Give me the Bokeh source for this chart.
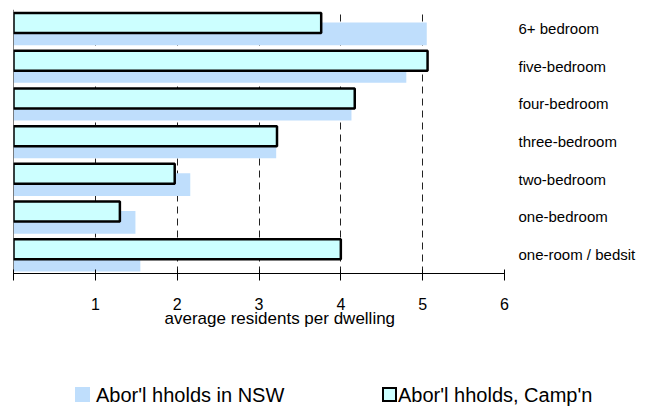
from bokeh.plotting import figure
from bokeh.layouts import column
from bokeh.models import (FactorRange, Range1d, FixedTicker, Span, Title, Div,
                          ColumnDataSource)
from bokeh.transform import dodge
from bokeh.embed import file_html
from bokeh.resources import INLINE

# ---- data ----
categories = ["one-room / bedsit", "one-bedroom", "two-bedroom", "three-bedroom",
              "four-bedroom", "five-bedroom", "6+ bedroom"]
nsw = [1.55, 1.49, 2.16, 3.21, 4.13, 4.80, 5.05]
campn = [4.00, 1.30, 1.97, 3.22, 4.17, 5.06, 3.76]
x_ticks = [0, 1, 2, 3, 4, 5, 6]
x_tick_labels = ["", "1", "2", "3", "4", "5", "6"]
series_names = ["Abor'l hholds in NSW", "Abor'l hholds, Camp'n"]
x_title = "average residents per dwelling"

FONT = "Liberation Sans"
NSW_FILL = "#BFDEFC"
CAMP_FILL = "#CCFFFF"

src = ColumnDataSource(dict(cat=categories, nsw=nsw, campn=campn))

p = figure(frame_width=491, frame_height=264, output_backend="svg", toolbar_location=None,
           x_range=Range1d(0, 6), y_range=FactorRange(factors=categories),
           y_axis_location="right", min_border_left=13, min_border_right=141,
           min_border_top=9, min_border_bottom=75)
p.outline_line_color = None
p.background_fill_color = "white"

# grid
p.ygrid.visible = False
p.xgrid.ticker = FixedTicker(ticks=x_ticks)
p.xgrid.grid_line_color = "#222222"
p.xgrid.grid_line_dash = "7 5"
p.xgrid.grid_line_width = 1

# bars
r_nsw = p.hbar(y=dodge("cat", -0.145, range=p.y_range), right="nsw", left=0, height=0.6,
               source=src, fill_color=NSW_FILL, line_color=None)
r_camp = p.hbar(y=dodge("cat", 0.142, range=p.y_range), right="campn", left=0, height=0.53,
                source=src, fill_color=CAMP_FILL, line_color="black", line_width=2.5)

# left edge line
p.add_layout(Span(location=0, dimension="height", line_color="black", line_width=1))

# x axis
xa = p.xaxis[0]
xa.ticker = FixedTicker(ticks=x_ticks)
xa.major_label_overrides = {t: l for t, l in zip(x_ticks, x_tick_labels)}
xa.minor_tick_line_color = None
xa.major_tick_in = 4
xa.major_tick_out = 7
xa.major_tick_line_color = "black"
xa.axis_line_color = "black"
xa.major_label_text_font = FONT
xa.major_label_text_font_size = "16px"
xa.major_label_text_color = "black"
xa.major_label_standoff = 17

# right categorical axis
ya = p.yaxis[0]
ya.axis_line_color = None
ya.major_tick_line_color = None
ya.major_tick_out = 0
ya.major_tick_in = 0
ya.minor_tick_line_color = None
ya.major_label_text_font = FONT
ya.major_label_text_font_size = "15px"
ya.major_label_text_color = "black"
ya.major_label_standoff = 14

# axis title (as a below title, offset to match)
p.add_layout(Title(text=x_title, align="left", offset=151, standoff=-12,
                   text_font=FONT, text_font_size="17px", text_font_style="normal",
                   text_color="black"), "below")

# ---- legend strip (HTML) ----
sq = "position:absolute;top:39px;width:15px;height:15px;box-sizing:border-box;"
tx = ("position:absolute;top:37px;white-space:nowrap;font-size:20px;line-height:20px;"
      "color:black;")
legend_html = (
    f'<div style="position:relative;width:645px;height:58px;font-family:\'{FONT}\';">'
    f'<div style="{sq}left:75px;background:{NSW_FILL};"></div>'
    f'<div style="{tx}left:96px;">{series_names[0]}</div>'
    f'<div style="{sq}left:382px;background:{CAMP_FILL};border:2px solid black;"></div>'
    f'<div style="{tx}left:398px;">{series_names[1]}</div>'
    '</div>'
)
legend_div = Div(text=legend_html, width=645, height=58, margin=0)

layout = column(p, legend_div, spacing=0)
open("out.html", "w").write(file_html(layout, INLINE))
